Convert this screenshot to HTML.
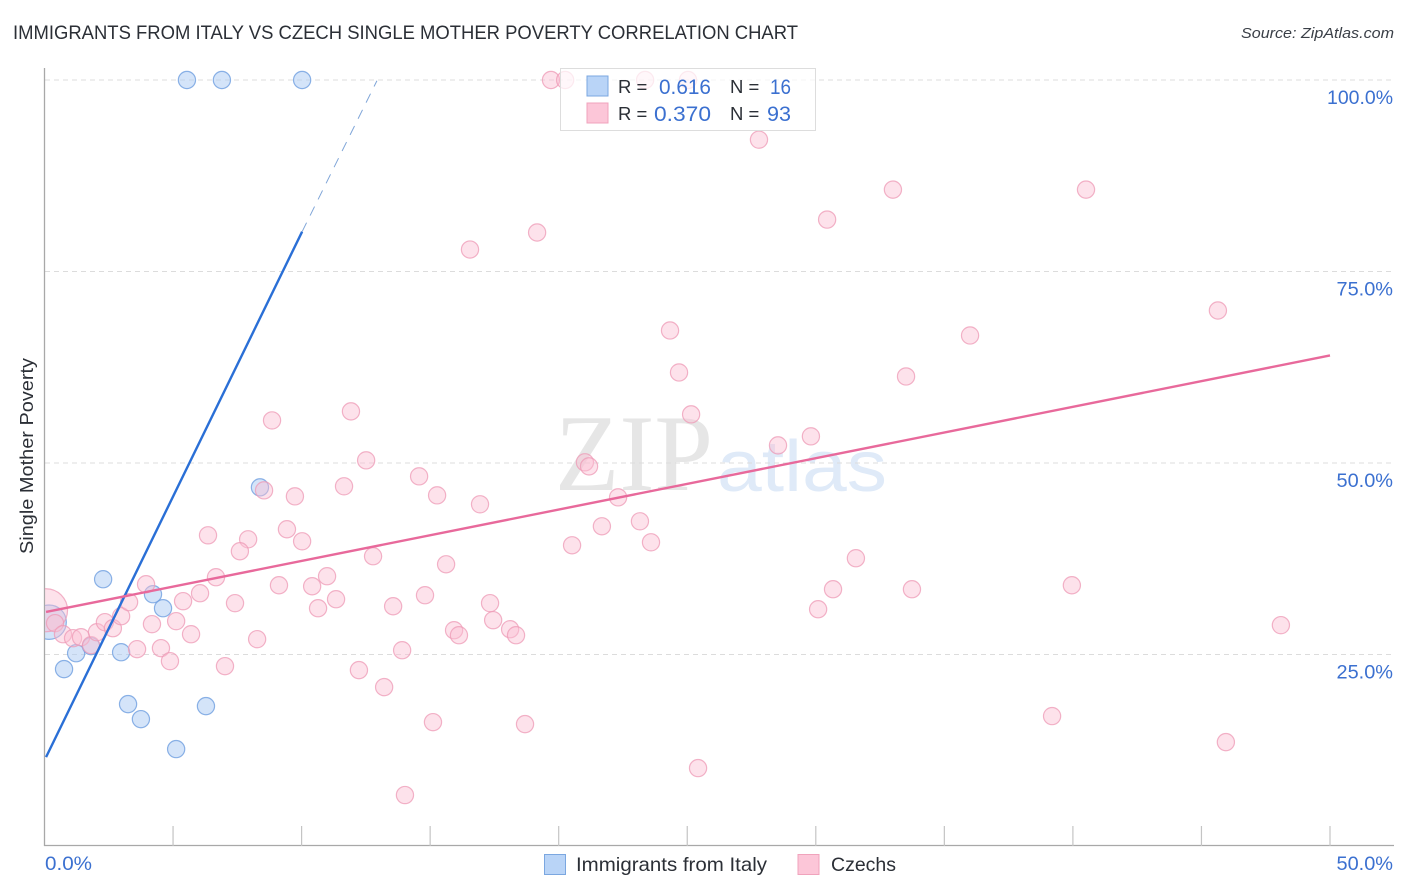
<!DOCTYPE html>
<html>
<head>
<meta charset="utf-8">
<title>Immigrants from Italy vs Czech Single Mother Poverty Correlation Chart</title>
<style>
html,body{margin:0;padding:0;background:#fff;width:1406px;height:892px;overflow:hidden}
svg{display:block}
text{font-family:"Liberation Sans",sans-serif}
</style>
</head>
<body>
<svg id="chart" width="1406" height="892" viewBox="0 0 1406 892" xmlns="http://www.w3.org/2000/svg">
  <defs>
    <clipPath id="plot-clip"><rect x="45" y="60" width="1361" height="786"></rect></clipPath>
  </defs>
  <text x="13" y="39" font-size="19" fill="#2b2f36" textLength="785" lengthAdjust="spacingAndGlyphs">IMMIGRANTS FROM ITALY VS CZECH SINGLE MOTHER POVERTY CORRELATION CHART</text>
  <text x="1241" y="38" font-size="15" font-style="italic" fill="#3a3f47" textLength="153" lengthAdjust="spacingAndGlyphs">Source: ZipAtlas.com</text>
  <text x="555" y="490" font-size="109" fill="#e6e6e6" textLength="158" lengthAdjust="spacingAndGlyphs" style="font-family:'Liberation Serif',serif">ZIP</text>
  <text x="717" y="491" font-size="72" fill="#dfeaf8" textLength="170" lengthAdjust="spacingAndGlyphs">atlas</text>
  <g id="grid"></g>
  <g id="axes"></g>
  <g id="series-italy" clip-path="url(#plot-clip)"></g>
  <g id="series-czechs" clip-path="url(#plot-clip)"></g>
  <g id="trends"></g>
  <text transform="translate(33,456) rotate(-90)" font-size="18.5" fill="#2b2f36" text-anchor="middle" textLength="196" lengthAdjust="spacingAndGlyphs">Single Mother Poverty</text>
  <g id="legend-top">
    <rect x="560.5" y="68.5" width="255" height="62" fill="#fff" fill-opacity="0.72" stroke="#dddddd" stroke-width="1"></rect>
    <rect x="587" y="76" width="21" height="20" fill="#b9d4f7" stroke="#7ba7e0" stroke-width="1"></rect>
    <rect x="587" y="103" width="21" height="20" fill="#fcc6d8" stroke="#f0a3bc" stroke-width="1"></rect>
    <text x="618" y="93" font-size="18.5" fill="#2b2f36">R =</text>
    <text x="659" y="94" font-size="21" fill="#3b70d0" textLength="52" lengthAdjust="spacingAndGlyphs">0.616</text>
    <text x="730" y="93" font-size="18.5" fill="#2b2f36">N =</text>
    <text x="770" y="94" font-size="21" fill="#3b70d0" textLength="21" lengthAdjust="spacingAndGlyphs">16</text>
    <text x="618" y="120" font-size="18.5" fill="#2b2f36">R =</text>
    <text x="654" y="121" font-size="21" fill="#3b70d0" textLength="57" lengthAdjust="spacingAndGlyphs">0.370</text>
    <text x="730" y="120" font-size="18.5" fill="#2b2f36">N =</text>
    <text x="767" y="121" font-size="21" fill="#3b70d0" textLength="24" lengthAdjust="spacingAndGlyphs">93</text>
  </g>
  <g id="legend-bottom">
    <rect x="544.5" y="854.5" width="21" height="20" fill="#b9d4f7" stroke="#7ba7e0" stroke-width="1"></rect>
    <text x="576" y="871" font-size="19.5" fill="#2b2f36" textLength="191" lengthAdjust="spacingAndGlyphs">Immigrants from Italy</text>
    <rect x="798" y="854.5" width="21" height="20" fill="#fcc6d8" stroke="#f0a3bc" stroke-width="1"></rect>
    <text x="831" y="871" font-size="19.5" fill="#2b2f36" textLength="65" lengthAdjust="spacingAndGlyphs">Czechs</text>
  </g>
</svg>
<script>
const xTickValues = [0, 5, 10, 15, 20, 25, 30, 35, 40, 45, 50];
const xTickLabels = ["0.0%", "50.0%"];
const yTickValues = [25, 50, 75, 100];
const yTickLabels = ["25.0%", "50.0%", "75.0%", "100.0%"];

const italyX = [5.54, 6.90, 10.02, 2.28, 4.22, 4.61, 2.98, 1.23, 0.76, 1.81, 3.25, 3.75, 5.12, 6.28, 8.38, 0.18];
const italyY = [100, 100, 100, 34.83, 32.87, 31.04, 25.30, 25.17, 23.09, 26.09, 18.52, 16.56, 12.65, 18.26, 46.82, 29.22];
const italyWeight = [1, 1, 1, 1, 1, 1, 1, 1, 1, 1, 1, 1, 1, 1, 1, 2];

const czechX = [0.06, 0.41, 0.72, 1.11, 1.42, 1.81, 2.04, 2.35, 2.66, 2.98, 3.29, 3.95, 3.60, 4.18, 4.53, 4.88, 5.12, 5.39, 5.70, 6.05, 6.67, 7.02, 7.41, 8.27, 9.12, 6.36, 7.92, 7.60, 8.85, 11.92, 12.51, 11.65, 8.54, 9.74, 9.43, 10.02, 10.41, 10.99, 11.34, 10.64, 12.78, 13.56, 14.80, 15.62, 14.57, 15.27, 16.94, 15.93, 16.12, 17.33, 17.45, 18.11, 18.34, 13.91, 12.23, 13.21, 15.11, 18.69, 14.02, 25.42, 20.52, 21.68, 22.31, 23.16, 23.59, 21.02, 21.18, 24.33, 24.68, 25.15, 28.53, 29.81, 33.51, 36.00, 45.64, 33.00, 40.51, 30.44, 27.79, 19.16, 16.55, 19.70, 20.25, 23.36, 25.03, 31.56, 30.67, 30.09, 33.74, 39.96, 48.09, 39.19, 45.95];
const czechY = [30.78, 29.09, 27.65, 27.13, 27.26, 26.22, 27.91, 29.22, 28.43, 30.00, 31.83, 34.17, 25.70, 28.96, 25.83, 24.13, 29.35, 31.96, 27.65, 33.00, 35.09, 23.48, 31.70, 27.00, 34.04, 40.56, 40.04, 38.48, 55.56, 56.74, 50.35, 46.96, 46.43, 45.65, 41.35, 39.78, 33.91, 35.22, 32.22, 31.04, 37.83, 31.30, 32.74, 36.78, 48.26, 45.78, 44.61, 28.17, 27.52, 31.70, 29.48, 28.30, 27.52, 25.56, 22.96, 20.74, 16.17, 15.91, 6.65, 10.17, 39.26, 41.74, 45.52, 42.39, 39.65, 50.09, 49.56, 67.30, 61.82, 56.35, 52.30, 53.48, 61.30, 66.65, 69.91, 85.69, 85.69, 81.78, 92.21, 80.09, 77.87, 100, 100, 100, 100, 37.57, 33.52, 30.91, 33.52, 34.04, 28.83, 16.96, 13.56];
const czechWeight = [2.5];

const italyTrendX = [0.06, 10.02, 12.93];
const italyTrendY = [11.6, 80.2, 99.9];
const czechTrendX = [0.06, 50];
const czechTrendY = [30.55, 64.04];

const SVGNS = 'http://www.w3.org/2000/svg';
function xScale(v) { return 44.5 + v * 25.71; }
function yScale(v) { return 846 - v * 7.66; }
function labelWidth(s) { return s.length * 9.5 + 9; }
function make(tag, parentId, props) {
  const el = document.createElementNS(SVGNS, tag);
  Object.keys(props).forEach(function (k) { el.setAttribute(k, props[k]); });
  document.getElementById(parentId).appendChild(el);
  return el;
}

yTickValues.forEach(function (v, i) {
  const grid = make('line', 'grid', {x1: 45, x2: 1394, y1: yScale(v), y2: yScale(v), stroke: '#dcdcdc', 'stroke-width': 1, 'stroke-dasharray': '5 4'});
  
  
  const w = labelWidth(yTickLabels[i]);
  const label = make('text', 'axes', {x: 1393 - w, y: yScale(v) + 24, 'font-size': 19, fill: '#3b70d0', textLength: w, lengthAdjust: 'spacingAndGlyphs'});
  label.textContent = yTickLabels[i];
  
  
});

const yAxisLine = make('line', 'axes', {x1: 44.5, x2: 44.5, y1: 68, y2: 846, stroke: '#a8a8a8', 'stroke-width': 1.3});


const xAxisLine = make('line', 'axes', {x1: 44, x2: 1394, y1: 845.5, y2: 845.5, stroke: '#a8a8a8', 'stroke-width': 1.3});



xTickValues.slice(1).forEach(function (v) {
  const tick = make('line', 'axes', {x1: xScale(v), x2: xScale(v), y1: 826, y2: 846, stroke: '#c4c4c4', 'stroke-width': 1.2});
  
  
});

const xLabelLeft = make('text', 'axes', {x: xScale(xTickValues[0]) + 0.5, y: 870, 'font-size': 19, fill: '#3b70d0', textLength: labelWidth(xTickLabels[0]), lengthAdjust: 'spacingAndGlyphs'});
xLabelLeft.textContent = xTickLabels[0];


const xLabelRight = make('text', 'axes', {x: 1393 - labelWidth(xTickLabels[1]), y: 870, 'font-size': 19, fill: '#3b70d0', textLength: labelWidth(xTickLabels[1]), lengthAdjust: 'spacingAndGlyphs'});
xLabelRight.textContent = xTickLabels[1];



italyX.forEach(function (v, i) {
  const pt = make('circle', 'series-italy', {cx: xScale(v), cy: yScale(italyY[i]), r: 8.6 * italyWeight[i], fill: '#a9c9f3', 'fill-opacity': 0.5, stroke: '#6f9fe0', 'stroke-opacity': 0.8, 'stroke-width': 1.2});
  
  
});

czechX.forEach(function (v, i) {
  const pt = make('circle', 'series-czechs', {cx: xScale(v), cy: yScale(czechY[i]), r: 8.6 * (czechWeight[i] || 1), fill: '#fbbfd2', 'fill-opacity': 0.45, stroke: '#ee9ab6', 'stroke-opacity': 0.75, 'stroke-width': 1.2});
  
  
});

const italySolid = make('line', 'trends', {x1: xScale(italyTrendX[0]), y1: yScale(italyTrendY[0]), x2: xScale(italyTrendX[1]), y2: yScale(italyTrendY[1]), stroke: '#2a6fd6', 'stroke-width': 2.4});


const italyDash = make('line', 'trends', {x1: xScale(italyTrendX[1]), y1: yScale(italyTrendY[1]), x2: xScale(italyTrendX[2]), y2: yScale(italyTrendY[2]), stroke: '#7fa5d8', 'stroke-width': 1, 'stroke-dasharray': '10 8'});


const czechLine = make('line', 'trends', {x1: xScale(czechTrendX[0]), y1: yScale(czechTrendY[0]), x2: xScale(czechTrendX[1]), y2: yScale(czechTrendY[1]), stroke: '#e8699b', 'stroke-width': 2.4});


</script>
</body>
</html>
